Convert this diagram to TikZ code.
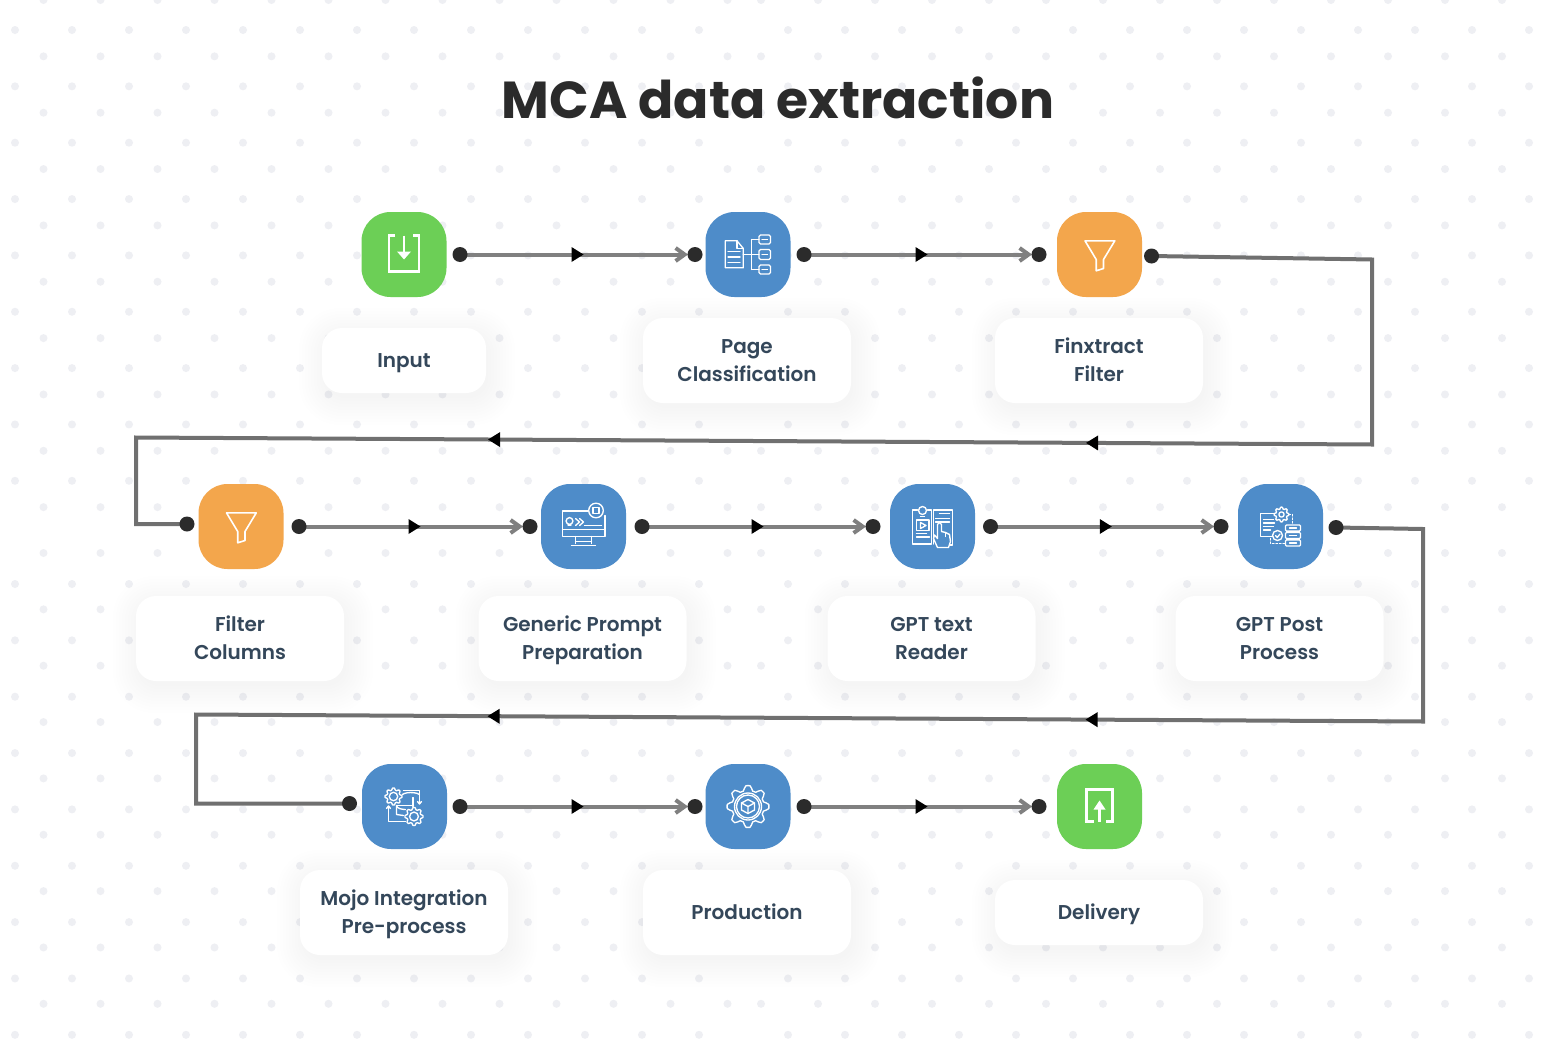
\documentclass[tikz,border=0pt]{standalone}
\usepackage{fontspec}
\setmainfont{Poppins}
\newfontfamily\titlefont{Poppins}[UprightFont=* Bold]
\newfontfamily\labelfont{Poppins}[UprightFont=* SemiBold]
\usetikzlibrary{arrows.meta,decorations.markings}
\pgfdeclarelayer{pattern}
\pgfdeclarelayer{wires}
\pgfsetlayers{pattern,wires,main}
\definecolor{igreen}{HTML}{6CCF56}
\definecolor{iblue}{HTML}{4E8CC9}
\definecolor{iorange}{HTML}{F3A64C}
\definecolor{dotdark}{HTML}{2B2B2B}
\definecolor{wire}{HTML}{808080}
\definecolor{loopwire}{HTML}{707070}
\definecolor{txt}{HTML}{34475A}
\definecolor{bgdot}{HTML}{EEEFF3}
\newcommand{\ls}{\rule[-7.5pt]{0pt}{28pt}}
\tikzset{
  iconbox/.style={rounded corners=29pt,minimum size=85pt,inner sep=0pt,draw=none},
  labelbox/.style={fill=white,rounded corners=20pt,inner sep=0pt,align=center,text=txt,
    font=\labelfont\fontsize{20}{28}\selectfont},
  endpoint/.style={circle,fill=dotdark,minimum size=15pt,inner sep=0pt},
  ico/.style={draw=white,line width=1.35pt,line join=round,line cap=round},
  icothick/.style={draw=white,line width=2.6pt,line join=miter},
  flow/.style={draw=wire,line width=4pt,-{Straight Barb[length=9pt,width=13pt]},shorten >=7pt,
    postaction={decorate,decoration={markings,mark=at position .5 with {\fill[black] (-6,-7.5)--(6,0)--(-6,7.5)--cycle;}}}},
  longloop/.style 2 args={draw=loopwire,line width=4pt,line join=miter,
    postaction={decorate,decoration={markings,
      mark=at position #1pt with {\fill[black] (-6,-7.5)--(6,0)--(-6,7.5)--cycle;},
      mark=at position #2pt with {\fill[black] (-6,-7.5)--(6,0)--(-6,7.5)--cycle;}}}},
}
\newcommand{\lbox}[6]{% name,x,y,w,h,text
  \foreach \s in {26,23,...,-1}{
    \fill[black,opacity=.003,rounded corners={20+\s*0.8}]
      ({#2-#4/2-\s+3},{#3-#5/2-\s+6}) rectangle ({#2+#4/2+\s+3},{#3+#5/2+\s+6});
  }
  \node[labelbox,minimum width=#4 pt,minimum height=#5 pt] (#1) at (#2,#3) {#6};
}
\newcommand{\gearshape}[4]{% x,y,r,teeth
  \draw[ico] plot[domain=0:360,samples=#4*8+1] ({#1+(#3+#3*0.13*min(1,max(-1,2.2*cos(#4*\x))))*cos(\x)},{#2+(#3+#3*0.13*min(1,max(-1,2.2*cos(#4*\x))))*sin(\x)})--cycle;
}
\begin{document}
\begin{tikzpicture}[x=1pt,y=-1pt]
\useasboundingbox (0,0) rectangle (1558,1052);
\begin{pgfonlayer}{pattern}
  \fill[white] (0,0) rectangle (1558,1052);
  % dotted paper: two tiles with visible seams
  \foreach \k in {0,...,8}{
    \foreach \j in {0,...,12}{
      \fill[bgdot] ({15+57*\j},{30+56.35*\k}) circle[radius=4];
      \fill[bgdot] ({15+57*\j},{584+56.35*\k}) circle[radius=4];
    }
    \foreach \j in {0,...,13}{
      \fill[bgdot] ({788+57*\j},{30+56.35*\k}) circle[radius=4];
      \fill[bgdot] ({788+57*\j},{584+56.35*\k}) circle[radius=4];
    }
  }
  \foreach \k in {0,...,9}{
    \foreach \j in {0,...,12}{\fill[bgdot] ({43.5+57*\j},{56.35*\k}) circle[radius=4];}
    \foreach \j in {0,...,13}{\fill[bgdot] ({761+57*\j},{56.35*\k}) circle[radius=4];}
  }
  \foreach \k in {0,...,8}{
    \foreach \j in {0,...,12}{\fill[bgdot] ({43.5+57*\j},{553+56.35*\k}) circle[radius=4];}
    \foreach \j in {0,...,13}{\fill[bgdot] ({761+57*\j},{553+56.35*\k}) circle[radius=4];}
  }
\end{pgfonlayer}

\node[font=\titlefont\fontsize{52}{60}\selectfont,text=dotdark,inner sep=0pt] (title) at (778,98) {MCA data extraction};

% icon tiles
\node[iconbox,fill=igreen] (input) at (404,254.5) {};
\node[iconbox,fill=iblue] (page) at (748,254.5) {};
\node[iconbox,fill=iorange] (finx) at (1099.5,254.5) {};
\node[iconbox,fill=iorange] (filt) at (241,526.5) {};
\node[iconbox,fill=iblue] (prompt) at (583.5,526.5) {};
\node[iconbox,fill=iblue] (reader) at (932.5,526.5) {};
\node[iconbox,fill=iblue] (post) at (1280.5,526.5) {};
\node[iconbox,fill=iblue] (mojo) at (404.5,806.5) {};
\node[iconbox,fill=iblue] (prod) at (748,806.5) {};
\node[iconbox,fill=igreen] (deliv) at (1099.5,806.5) {};

% labels
\lbox{linput}{404}{360.5}{164}{65}{\ls Input}
\lbox{lpage}{747}{360.5}{208}{85}{\ls Page\\\ls Classification}
\lbox{lfinx}{1099}{360.5}{208}{85}{\ls Finxtract\\\ls Filter}
\lbox{lfilt}{240}{638.5}{208}{85}{\ls Filter\\\ls Columns}
\lbox{lprompt}{582.5}{638.5}{208}{85}{\ls Generic Prompt\\\ls Preparation}
\lbox{lreader}{931.5}{638.5}{208}{85}{\ls GPT text\\\ls Reader}
\lbox{lpost}{1279.5}{638.5}{208}{85}{\ls GPT Post\\\ls Process}
\lbox{lmojo}{404}{912.5}{208}{85}{\ls Mojo Integration\\\ls Pre-process}
\lbox{lprod}{747}{912.5}{208}{85}{\ls Production}
\lbox{ldeliv}{1099}{912.5}{208}{65}{\ls Delivery}

% connector end points
\node[endpoint] (p1) at (460,254.5) {};
\node[endpoint] (p2) at (695,254.5) {};
\node[endpoint] (p3) at (804,254.5) {};
\node[endpoint] (p4) at (1039,254.5) {};
\node[endpoint] (p5) at (1151.5,256) {};
\node[endpoint] (p6) at (187,524) {};
\node[endpoint] (p7) at (299,526.5) {};
\node[endpoint] (p8) at (530,526.5) {};
\node[endpoint] (p9) at (642,526.5) {};
\node[endpoint] (p10) at (873,526.5) {};
\node[endpoint] (p11) at (990.5,526.5) {};
\node[endpoint] (p12) at (1221,526.5) {};
\node[endpoint] (p13) at (1336,527.5) {};
\node[endpoint] (p14) at (349.5,803.5) {};
\node[endpoint] (p15) at (460,806.5) {};
\node[endpoint] (p16) at (695,806.5) {};
\node[endpoint] (p17) at (804,806.5) {};
\node[endpoint] (p18) at (1039,806.5) {};

\coordinate (a1) at (1372,259.5);
\coordinate (a2) at (1372,444.5);
\coordinate (a3) at (136,437.5);
\coordinate (a4) at (136,524);
\coordinate (b1) at (1423,529);
\coordinate (b2) at (1423,721.5);
\coordinate (b3) at (196,714.5);
\coordinate (b4) at (196,803.5);

\begin{pgfonlayer}{wires}
  \draw[flow] (p1.center)--(p2.center);
  \draw[flow] (p3.center)--(p4.center);
  \draw[flow] (p7.center)--(p8.center);
  \draw[flow] (p9.center)--(p10.center);
  \draw[flow] (p11.center)--(p12.center);
  \draw[flow] (p15.center)--(p16.center);
  \draw[flow] (p17.center)--(p18.center);
  \draw[longloop={685.5}{1283.5}] (p5.center)--(a1)--(a2)--(a3)--(a4)--(p6.center);
  \draw[longloop={611}{1209}] (p13.center)--(b1)--(b2)--(b3)--(b4)--(p14.center);
\end{pgfonlayer}

% ---- icons ----
\begin{scope}[shift={(input.center)}]
  \draw[icothick] (-9,-19)--(-15,-19)--(-15,17)--(15,17)--(15,-19)--(9,-19);
  \draw[icothick] (0,-19)--(0,3);
  \fill[white] (-7,-3)--(7,-3)--(0,5)--cycle;
\end{scope}
\begin{scope}[shift={(deliv.center)}]
  \draw[icothick] (-6,15)--(-13,15)--(-13,-17)--(13,-17)--(13,15)--(6,15);
  \draw[icothick] (0,15)--(0,-2);
  \fill[white] (-6,3)--(6,3)--(0,-6)--cycle;
\end{scope}
\foreach \n in {finx,filt}{
\begin{scope}[shift={(\n.center)}]
  \draw[ico,line width=1.6pt] (-14.5,-13.7)--(15.3,-13.7)--(4,5)--(4,14)--(-3.3,16.3)--(-3.3,5)--cycle;
\end{scope}}
\begin{scope}[shift={(page.center)}]
  \draw[ico] (-22.7,-13.7)--(-11,-13.7)--(-4.7,-6)--(-4.7,13.3)--(-22.7,13.3)--cycle;
  \draw[ico] (-11,-13.7)--(-11,-6)--(-4.7,-6);
  \draw[ico] (-20,-3)--(-8,-3) (-20,2.5)--(-8,2.5) (-20,8)--(-8,8);
  \draw[ico] (-4.7,0)--(3.5,0) (3.5,-15)--(3.5,15) (3.5,-15)--(11,-15) (3.5,0)--(11,0) (3.5,15)--(11,15);
  \draw[ico,rounded corners=1.5pt] (11,-19.5) rectangle (22.5,-10.5) (11,-5) rectangle (22.5,5) (11,10.5) rectangle (22.5,19.5);
  \draw[ico] (14,-15)--(19.5,-15) (14,0)--(19.5,0) (14,15)--(19.5,15);
\end{scope}
\begin{scope}[shift={(prompt.center)}]
  \draw[ico] (5,-15.5)--(-21,-15.5)--(-21,10)--(21.5,10)--(21.5,-11);
  \draw[ico] (-21,3)--(21.5,3);
  \draw[ico] (-8,10)--(-8,17) (8,10)--(8,17) (-12,19)--(12,19) (-8,15)--(8,15);
  \draw[ico,fill=iblue] (12.5,-16) circle[radius=7.3];
  \draw[ico] (9.5,-19) rectangle (15.5,-13);
  \draw[ico] (-14,-5.5) circle[radius=3.4];
  \draw[ico] (-15.5,-1.5)--(-12.5,-1.5);
  \draw[ico] (-8,-8)--(-4,-4.5)--(-8,-1) (-4,-8)--(0,-4.5)--(-4,-1);
  \draw[ico] (1,-1)--(18,-1);
\end{scope}
\begin{scope}[shift={(reader.center)}]
  \draw[ico] (-15,-16.5)--(-20,-16.5)--(-20,17.5)--(-1,17.5)--(-1,-16.5)--(-5,-16.5);
  \draw[ico] (1,17.5)--(1,-16.5)--(20,-16.5)--(20,18.5)--(17,18.5);
  \draw[ico] (-10,-16) circle[radius=4];
  \draw[ico] (-12,-10)--(-8,-10);
  \draw[ico] (-16,-6.5) rectangle (-3.5,4);
  \draw[ico] (-12,-4)--(-6.5,-1)--(-12,2)--cycle;
  \draw[ico] (-16,7)--(-6,7) (-16,10.5)--(-3,10.5);
  \draw[ico] (7,-13)--(17,-13) (3,-8)--(17,-8) (3,-4.5)--(17,-4.5);
  \draw[ico,fill=iblue] (5,21)--(1,12)--(2,8.5)--(5,12)--(5,-2)--(7,-4)--(9,-2)--(9,5)--(13,6)--(17,8)--(18,15)--(16,21)--cycle;
  \draw[ico] (13,6)--(13,10) (17,8)--(17,11);
\end{scope}
\begin{scope}[shift={(post.center)}]
  \draw[ico] (-8,10)--(-20,10)--(-20,-13)--(-6,-13);
  \draw[ico] (-17,-7)--(-7,-7) (-17,-3.5)--(-6,-3.5) (-17,0)--(-7,0) (-17,3.5)--(-10,3.5);
  \gearshape{1}{-12}{6.5}{8}
  \draw[ico] (1,-12) circle[radius=2.6];
  \draw[ico] (-3,9) circle[radius=5];
  \draw[ico] (-5,9)--(-3.3,11)--(-0.5,7.5);
  \draw[ico,dash pattern=on 1.5pt off 2pt] (8.5,-12)--(12,-12)--(12,-1.5) (-10,12)--(-10,17)--(4,17);
  \draw[ico,rounded corners=1pt] (5,-1.5) rectangle (20,4.5) (5,6) rectangle (20,12) (5,13.5) rectangle (20,19.5);
  \draw[ico] (9,1.5)--(16,1.5) (9,9)--(16,9) (9,16.5)--(16,16.5);
\end{scope}
\begin{scope}[shift={(mojo.center)}]
  \gearshape{-11}{-10}{7.5}{8}
  \draw[ico] (-11,-10) circle[radius=4.2];
  \gearshape{9.5}{10}{8}{8}
  \draw[ico] (9.5,10) circle[radius=4.4];
  \draw[ico] (-2,-12) arc[start angle=200,end angle=340,x radius=9,y radius=3];
  \draw[ico] (-8,-1)--(9,-1) (8.5,-9)--(8.5,0);
  \draw[ico] (-8,-1) .. controls (-8,2) and (-2,3) .. (1,3);
  \draw[ico] (-8,-1)--(-8,8)--(-1,9);
  \draw[ico] (-1,-16)--(15,-16)--(15,-3);
  \draw[ico] (13,-5)--(15,-2.5)--(17,-5);
  \draw[ico] (-16,0)--(-16,15)--(1,15);
  \draw[ico] (-18,2)--(-16,-0.5)--(-14,2);
\end{scope}
\begin{scope}[shift={(prod.center)}]
  \gearshape{0}{0}{18.5}{8}
  \draw[ico] (0,0) circle[radius=13.5];
  \draw[ico] (0,0) circle[radius=11.5];
  \draw[ico] (0,-7)--(6.5,-3.5)--(6.5,3.5)--(0,7)--(-6.5,3.5)--(-6.5,-3.5)--cycle;
  \draw[ico] (-6.5,-3.5)--(0,0)--(6.5,-3.5) (0,0)--(0,7);
\end{scope}
\end{tikzpicture}
\end{document}
